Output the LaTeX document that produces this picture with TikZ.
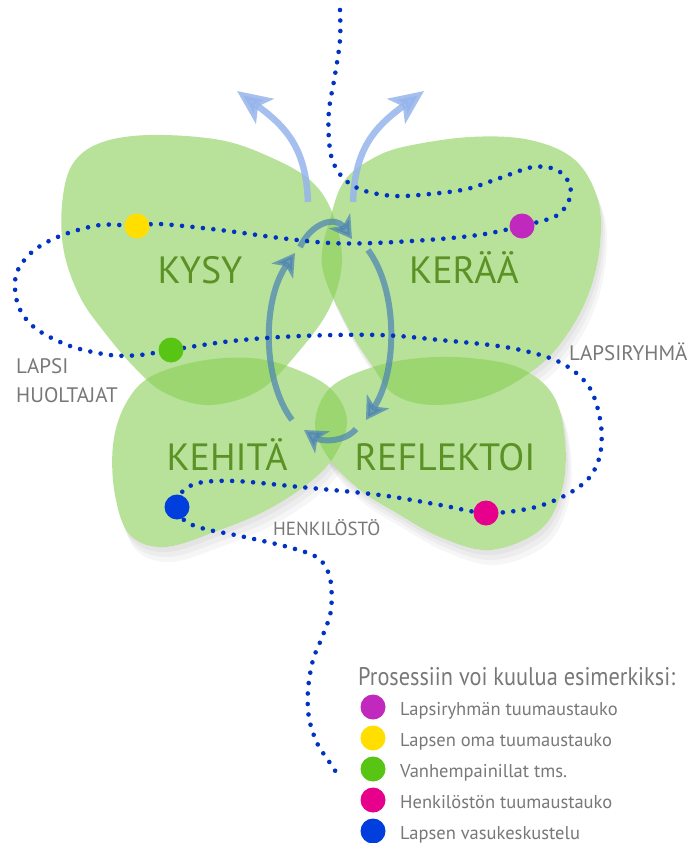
\documentclass[tikz,border=0pt]{standalone}
\usepackage{fontspec}
\setmainfont{PT Sans}
\usetikzlibrary{arrows.meta}
\definecolor{blobgreen}{RGB}{137,207,87}
\definecolor{wordgreen}{RGB}{92,145,38}
\definecolor{pathblue}{RGB}{0,50,195}
\definecolor{lightarrow}{RGB}{150,180,236}
\definecolor{steelarrow}{RGB}{75,130,180}
\definecolor{labelgray}{RGB}{120,120,120}
\definecolor{cpurple}{RGB}{192,40,190}
\definecolor{cyellow}{RGB}{255,222,0}
\definecolor{cgreen}{RGB}{88,196,20}
\definecolor{cpink}{RGB}{230,0,140}
\definecolor{cblue}{RGB}{0,62,222}
\tikzset{
  blob/.style={fill=blobgreen, fill opacity=0.6, draw=none},
  blobshadow/.style={fill=black, fill opacity=0.035, draw=none},
  bigword/.style={text=wordgreen, font=\fontsize{38}{40}\selectfont, inner sep=0pt},
  sidelabel/.style={text=labelgray, font=\fontsize{21}{23}\selectfont, inner sep=0pt, anchor=base west},
  legendtext/.style={text=labelgray, font=\fontsize{18.5}{20}\selectfont, inner sep=0pt, anchor=base west},
  spot/.style={circle, minimum size=25pt, inner sep=0pt, draw=none},
  dotline/.style={draw=pathblue, line width=4.6pt, line cap=round, dash pattern=on 0pt off 10.5pt},
  uparrow/.style={draw=lightarrow, line width=6.5pt, draw opacity=0.85, fill opacity=0.85,
     -{Stealth[length=34pt, width=30pt, inset=8pt]}},
  cyclearrow/.style={draw=steelarrow, line width=6pt, draw opacity=0.7, fill opacity=0.7,
     -{Stealth[length=22pt, width=26pt, inset=6pt]}}
}
\def\shapeA{(62,205) (72,165) (100,143) (150,135) (220,140) (270,157) (310,180) (332,212) (342,260) (330,307) (300,350) (260,390) (210,405) (165,393) (135,368) (105,333) (80,297) (64,252)}
\def\shapeB{(332,212) (345,180) (370,160) (403,147) (470,137) (530,140) (575,160) (598,200) (600,245) (590,290) (570,330) (540,365) (490,395) (435,405) (395,395) (373,367) (345,322) (322,265)}
\def\shapeC{(150,377) (200,361) (250,358) (290,367) (330,388) (347,420) (335,455) (310,482) (267,510) (217,531) (165,547) (130,535) (115,495) (113,445) (125,405)}
\def\shapeD{(330,388) (373,367) (420,358) (470,358) (520,368) (553,395) (565,440) (562,490) (540,530) (490,550) (440,537) (395,512) (360,490) (330,460) (315,425)}
\begin{document}
\begin{tikzpicture}[x=1pt,y=-1pt]
\useasboundingbox (0,0) rectangle (689,843);
\fill[white] (0,0) rectangle (689,843);

% soft shadows, kept outside the blobs
\begin{scope}[even odd rule]
\clip (0,0) rectangle (689,843) plot[smooth cycle, tension=0.6] coordinates {\shapeA};
\clip (0,0) rectangle (689,843) plot[smooth cycle, tension=0.6] coordinates {\shapeB};
\clip (0,0) rectangle (689,843) plot[smooth cycle, tension=0.6] coordinates {\shapeC};
\clip (0,0) rectangle (689,843) plot[smooth cycle, tension=0.6] coordinates {\shapeD};
\foreach \dx/\dy in {2/5, 4/10, 6/15}{
  \begin{scope}[shift={(\dx,\dy)}]
  \fill[blobshadow] plot[smooth cycle, tension=0.6] coordinates {\shapeC};
  \fill[blobshadow] plot[smooth cycle, tension=0.6] coordinates {\shapeD};
  \fill[blobshadow] plot[smooth cycle, tension=0.6] coordinates {\shapeB};
  \end{scope}
}
\end{scope}

% blobs
\fill[blob] plot[smooth cycle, tension=0.6] coordinates {\shapeA};
\fill[blob] plot[smooth cycle, tension=0.6] coordinates {\shapeB};
\fill[blob] plot[smooth cycle, tension=0.6] coordinates {\shapeC};
\fill[blob] plot[smooth cycle, tension=0.6] coordinates {\shapeD};

% big words
\node[bigword, anchor=base] (kysy) at (200,283) {KYSY};
\node[bigword, anchor=base] (keraa) at (464,283) {KERÄÄ};
\node[bigword, anchor=base] (kehita) at (227,470) {KEHITÄ};
\node[bigword, anchor=base] (reflektoi) at (445,470) {REFLEKTOI};

% upward arrows
\coordinate (ulS) at (308,202);
\coordinate (ulE) at (237,91);
\coordinate (urS) at (353,202);
\coordinate (urE) at (424,91);
\draw[uparrow] (ulS) .. controls (306,150) and (288,128) .. (ulE);
\draw[uparrow] (urS) .. controls (355,150) and (373,128) .. (urE);

% cycle arrows
\coordinate (cTs) at (300,247);
\coordinate (cTe) at (352,239);
\coordinate (cRs) at (368,250);
\coordinate (cRe) at (366,420);
\coordinate (cBs) at (356,429);
\coordinate (cBe) at (304,430);
\coordinate (cLs) at (292,420);
\coordinate (cLe) at (295,253);
\draw[cyclearrow] (cTs) .. controls (312,222) and (336,216) .. (cTe);
\draw[cyclearrow] (cRs) .. controls (398,290) and (398,370) .. (cRe);
\draw[cyclearrow] (cBs) .. controls (345,442) and (322,442) .. (cBe);
\draw[cyclearrow] (cLs) .. controls (262,380) and (262,300) .. (cLe);

% dotted path
\draw[dotline] plot[smooth, tension=0.55] coordinates {
(340,10) (340,40) (335,75) (329,110) (329,140) (333,162) (345,180) (365,191) (395,196) (430,194) (467,189) (500,178) (533,167) (557,170) (570,185) (568,203) (556,216) (538,222) (522,226)
(485,234) (440,239) (375,243) (330,243) (280,238) (220,230) (160,224) (137,226)
(100,225) (60,236) (32,252) (16,275) (18,305) (35,328) (70,346) (110,355) (140,355) (171,350)
(232,341) (300,336) (380,335) (440,340) (505,347) (550,358) (575,372) (592,392) (601,425) (600,455) (589,478) (566,495) (532,508) (486,513)
(440,505) (380,495) (300,487) (235,481) (198,483) (181,493) (177,507)
(185,521) (205,529) (240,536) (288,547) (318,558) (330,578) (331,610) (323,635) (313,660) (308,690) (309,718) (317,743) (328,760) (336,772)};

% spots on the path
\node[spot, fill=cpurple] (sPurple) at (522,226) {};
\node[spot, fill=cyellow] (sYellow) at (137,226) {};
\node[spot, fill=cgreen] (sGreen) at (171,350) {};
\node[spot, fill=cpink] (sPink) at (486,513) {};
\node[spot, fill=cblue] (sBlue) at (177,507) {};

% side labels
\node[sidelabel] (lapsi) at (16,373) {LAPSI};
\node[sidelabel] (huoltajat) at (16,402) {HUOLTAJAT};
\node[sidelabel] (lapsiryhma) at (569,360) {LAPSIRYHMÄ};
\node[sidelabel, font=\fontsize{19}{21}\selectfont] (henkilosto) at (273,535) {HENKILÖSTÖ};

% legend
\node[text=labelgray, font=\fontsize{25.5}{27}\selectfont, inner sep=0pt, anchor=base west] (ltitle) at (358,685) {\scalebox{0.875}[1]{Prosessiin voi kuulua esimerkiksi:}};
\node[spot, fill=cpurple] (l1) at (373,707) {};
\node[spot, fill=cyellow] (l2) at (373,738) {};
\node[spot, fill=cgreen] (l3) at (373,769) {};
\node[spot, fill=cpink] (l4) at (373,800) {};
\node[spot, fill=cblue] (l5) at (373,831) {};
\node[legendtext] (t1) at (400,715) {Lapsiryhmän tuumaustauko};
\node[legendtext] (t2) at (400,746) {Lapsen oma tuumaustauko};
\node[legendtext] (t3) at (400,777) {Vanhempainillat tms.};
\node[legendtext] (t4) at (400,808) {Henkilöstön tuumaustauko};
\node[legendtext] (t5) at (400,839) {Lapsen vasukeskustelu};
\end{tikzpicture}
\end{document}
